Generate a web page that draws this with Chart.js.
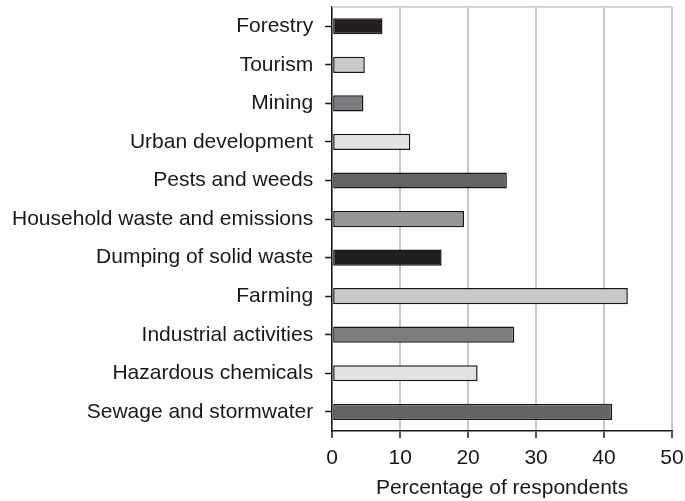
<!DOCTYPE html>
<html>
<head>
<meta charset="utf-8">
<script src="https://cdn.jsdelivr.net/npm/chart.js@4.4.0/dist/chart.umd.min.js"></script>
<style>
  html, body { margin: 0; padding: 0; background: #fff; }
  #wrap { width: 685px; height: 501px; }
</style>
</head>
<body>
<div id="wrap"><canvas id="myChart"></canvas></div>
<script>
const categories = [
  "Forestry", "Tourism", "Mining", "Urban development", "Pests and weeds",
  "Household waste and emissions", "Dumping of solid waste", "Farming",
  "Industrial activities", "Hazardous chemicals", "Sewage and stormwater"
]
const percentages = [7.4, 4.8, 4.6, 11.5, 25.7, 19.4, 16.1, 43.5, 26.8, 21.4, 41.2]
const xTicks = [0, 10, 20, 30, 40, 50]
const barColors = ["#231f20", "#c8c9ca", "#7e7e82", "#e1e2e3", "#636466",
  "#959697", "#231f20", "#c8c9ca", "#7e7e82", "#e1e2e3", "#636466"]

const ink = '#1a1718'
const gridGray = '#c8c8c8'
Chart.defaults.font.family = "'Liberation Sans', Arial, sans-serif"
Chart.defaults.font.size = 21
Chart.defaults.color = ink

// thin light line along the top of the plot, like the original frame
const topLine = {
  id: 'topLine',
  beforeDatasetsDraw(chart) {
    const { ctx, chartArea } = chart
    ctx.save()
    ctx.strokeStyle = gridGray
    ctx.lineWidth = 1.5
    ctx.beginPath()
    ctx.moveTo(chartArea.left, chartArea.top)
    ctx.lineTo(chartArea.right, chartArea.top)
    ctx.stroke()
    ctx.restore()
  }
}

new Chart("myChart", {
  type: "bar",
  data: {
    labels: categories,
    datasets: [{
      data: percentages,
      backgroundColor: barColors,
      borderColor: ink,
      borderWidth: 1.5,
      borderSkipped: false,
      barPercentage: 0.42,
      categoryPercentage: 1
    }]
  },
  plugins: [topLine],
  options: {
    indexAxis: 'y',
    responsive: true,
    maintainAspectRatio: false,
    animation: false,
    layout: { padding: { top: 7, right: 0, left: 12, bottom: 0 } },
    plugins: {
      legend: { display: false },
      tooltip: { enabled: false }
    },
    scales: {
      x: {
        min: 0,
        max: 50,
        afterBuildTicks: axis => { axis.ticks = xTicks.map(v => ({ value: v })) },
        // chart.js reserves the tick padding twice, take one back
        afterFit: axis => { axis.height -= axis.options.ticks.padding; axis.paddingRight = 13 },
        border: { color: ink, width: 1.5 },
        grid: { color: gridGray, lineWidth: 2, tickColor: ink, tickLength: 7, tickWidth: 1.5 },
        ticks: { padding: 7.5, color: ink },
        title: { display: true, text: "Percentage of respondents", color: ink, padding: { top: 5, bottom: 0 } }
      },
      y: {
        afterFit: axis => {
          axis.width -= axis.options.ticks.padding
          axis.paddingTop = 0
          axis.paddingBottom = 0
        },
        border: { color: ink, width: 1.5 },
        grid: { offset: false, drawOnChartArea: false, tickColor: ink, tickLength: 7, tickWidth: 1.5 },
        ticks: { padding: 12, color: ink }
      }
    }
  }
});
</script>
</body>
</html>
